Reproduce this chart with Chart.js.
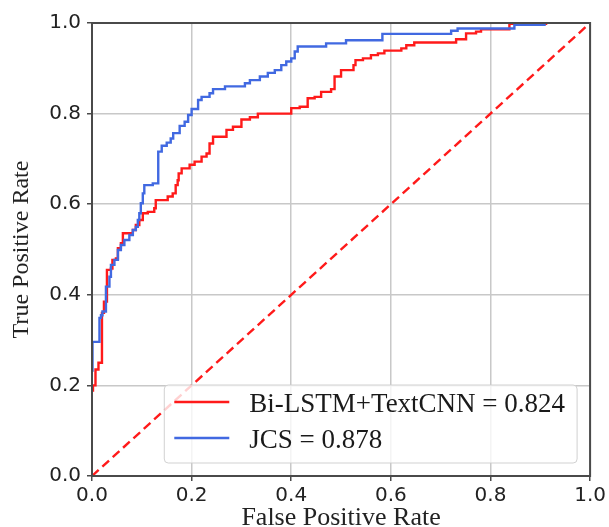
<!DOCTYPE html>
<html>
<head>
<meta charset="utf-8">
<script src="https://cdn.jsdelivr.net/npm/chart.js@4/dist/chart.umd.min.js"></script>
<style>
  body { margin: 0; background: #fff; }
  #wrap { width: 609px; height: 527px; }
</style>
</head>
<body>
<div id="wrap"><canvas id="roc" width="609" height="527"></canvas></div>
<script>
// ROC points: at each fpr the curve rises to tpr
var redLabel = "Bi-LSTM+TextCNN = 0.824";
var redFpr = [0.002, 0.002, 0.007, 0.013, 0.02, 0.024, 0.03, 0.038, 0.041, 0.048, 0.052, 0.058, 0.062,
    0.082, 0.088, 0.095, 0.102, 0.112, 0.125, 0.128, 0.152, 0.162, 0.168, 0.172, 0.174, 0.18, 0.196,
    0.206, 0.22, 0.23, 0.236, 0.243, 0.27, 0.283, 0.3, 0.317, 0.333, 0.4, 0.417, 0.433, 0.447, 0.46,
    0.48, 0.487, 0.5, 0.525, 0.529, 0.544, 0.56, 0.574, 0.587, 0.621, 0.631, 0.647, 0.731, 0.751,
    0.771, 0.781, 0.838, 0.914];
var redTpr = [0.186, 0.2, 0.235, 0.25, 0.36, 0.385, 0.455, 0.458, 0.477, 0.48, 0.503, 0.514, 0.536,
    0.543, 0.554, 0.565, 0.58, 0.583, 0.591, 0.609, 0.617, 0.624, 0.642, 0.653, 0.668, 0.679, 0.687,
    0.694, 0.705, 0.712, 0.734, 0.749, 0.764, 0.771, 0.787, 0.792, 0.8, 0.812, 0.815, 0.834, 0.837, 0.848,
    0.854, 0.882, 0.896, 0.907, 0.918, 0.922, 0.929, 0.933, 0.939, 0.944, 0.951, 0.957, 0.964, 0.977,
    0.981, 0.986, 0.998, 0.998];

var blueLabel = "JCS = 0.878";
var blueFpr = [0.001, 0.001, 0.015, 0.018, 0.021, 0.028, 0.035, 0.038, 0.045, 0.052, 0.058, 0.065, 0.075,
    0.082, 0.088, 0.092, 0.095, 0.098, 0.102, 0.105, 0.122, 0.133, 0.14, 0.15, 0.158, 0.163, 0.176,
    0.186, 0.193, 0.2, 0.213, 0.22, 0.236, 0.243, 0.267, 0.307, 0.317, 0.337, 0.353, 0.367, 0.38,
    0.39, 0.4, 0.407, 0.413, 0.47, 0.51, 0.583, 0.721, 0.734, 0.848, 0.911];
var blueTpr = [0.23, 0.296, 0.349, 0.355, 0.363, 0.418, 0.44, 0.466, 0.477, 0.499, 0.51, 0.521, 0.532,
    0.543, 0.55, 0.565, 0.58, 0.602, 0.624, 0.642, 0.646, 0.716, 0.729, 0.736, 0.745, 0.757, 0.773,
    0.782, 0.797, 0.81, 0.83, 0.837, 0.845, 0.854, 0.86, 0.867, 0.874, 0.882, 0.89, 0.896, 0.907,
    0.915, 0.922, 0.937, 0.948, 0.955, 0.962, 0.976, 0.983, 0.988, 0.996, 0.996];

var chanceX = [0, 1];
var chanceY = [0, 1];

var xTitle = "False Positive Rate";
var yTitle = "True Positive Rate";

// turn (fpr, tpr) corners into a staircase: go across, then up
function staircase(xs, ys) {
    var pts = [{ x: xs[0], y: ys[0] }];
    for (var i = 1; i < xs.length; i++) {
        pts.push({ x: xs[i], y: ys[i - 1] });
        pts.push({ x: xs[i], y: ys[i] });
    }
    return pts;
}

var serif = "'Liberation Serif', 'Times New Roman', serif";
var sans = "'DejaVu Sans', sans-serif";

// box round the plot and the legend inside it, lower right
var frameAndLegend = {
    id: 'frameAndLegend',
    afterDatasetsDraw: function(chart) {
        var ctx = chart.ctx, a = chart.chartArea;
        ctx.save();
        ctx.strokeStyle = '#4a4a4a';
        ctx.lineWidth = 2;
        ctx.strokeRect(a.left, a.top, a.right - a.left, a.bottom - a.top);
        ctx.restore();
    },
    afterDraw: function(chart) {
        var ctx = chart.ctx, a = chart.chartArea;
        var items = chart.data.datasets.filter(function(d) { return d.label; });
        ctx.save();
        ctx.font = '27px ' + serif;
        var tw = 0;
        items.forEach(function(d) { tw = Math.max(tw, ctx.measureText(d.label).width); });
        var w = 10 + 55 + 20 + tw + 12, h = 78;
        var x0 = a.right - 13 - w, y0 = a.bottom - 13 - h;
        ctx.beginPath();
        ctx.roundRect(x0, y0, w, h, 4);
        ctx.fillStyle = 'rgba(255,255,255,0.8)';
        ctx.fill();
        ctx.strokeStyle = 'rgba(204,204,204,0.9)';
        ctx.lineWidth = 1;
        ctx.stroke();
        items.forEach(function(d, i) {
            var yy = y0 + 17 + i * 36;
            ctx.strokeStyle = d.borderColor;
            ctx.lineWidth = 2.4;
            ctx.beginPath();
            ctx.moveTo(x0 + 10, yy);
            ctx.lineTo(x0 + 65, yy);
            ctx.stroke();
            ctx.fillStyle = '#1a1a1a';
            ctx.textBaseline = 'alphabetic';
            ctx.fillText(d.label, x0 + 85, yy + 10);
        });
        ctx.restore();
    }
};

function axisOpts(title, isY) {
    return {
        type: 'linear',
        min: 0,
        max: 1,
        ticks: {
            stepSize: 0.2,
            padding: isY ? 6 : 3,
            color: '#222',
            font: { family: sans, size: 20 },
            callback: function(v) { return v.toFixed(1); }
        },
        grid: {
            color: '#c8c8c8',
            lineWidth: 1.5,
            tickLength: 5,
            tickColor: '#4a4a4a',
            tickWidth: 1.5
        },
        border: { display: false },
        title: {
            display: true,
            text: title,
            color: '#222',
            font: { family: serif, size: isY ? 24 : 26, lineHeight: 1 },
            padding: isY ? { top: 10, bottom: 0 } : { top: 0, bottom: -4 }
        },
        afterFit: function(scale) {
            if (isY) scale.width = 92;
            else scale.height = 51;
        }
    };
}

var ctx = document.getElementById('roc').getContext('2d');
var rocChart = new Chart(ctx, {
    type: 'line',
    data: {
        datasets: [{
            label: redLabel,
            data: staircase(redFpr, redTpr),
            borderColor: '#ff1a1a',
            borderWidth: 2.4,
            pointRadius: 0,
            order: 3
        }, {
            label: blueLabel,
            data: staircase(blueFpr, blueTpr),
            borderColor: '#4169e1',
            borderWidth: 2.4,
            pointRadius: 0,
            order: 2
        }, {
            data: chanceX.map(function(x, i) { return { x: x, y: chanceY[i] }; }),
            borderColor: '#ff1a1a',
            borderWidth: 2.4,
            borderDash: [9, 5],
            pointRadius: 0,
            order: 1
        }]
    },
    options: {
        responsive: false,
        animation: false,
        parsing: false,
        layout: { padding: { left: 0, right: 18, top: 23, bottom: 0 } },
        scales: {
            x: axisOpts(xTitle, false),
            y: axisOpts(yTitle, true)
        },
        plugins: {
            legend: { display: false },
            tooltip: { enabled: false }
        }
    },
    plugins: [frameAndLegend]
});
</script>
</body>
</html>
